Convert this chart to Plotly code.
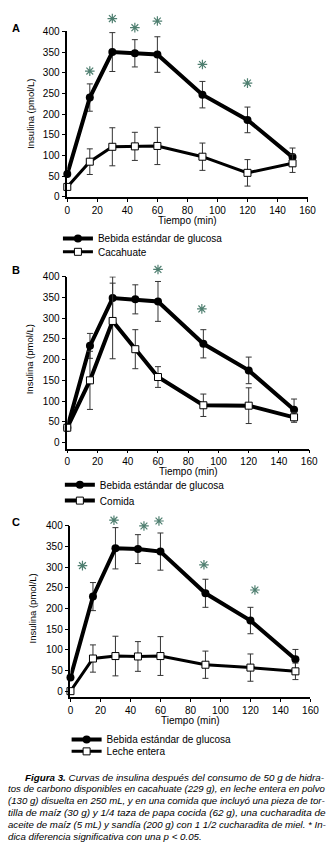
import plotly.graph_objects as go

W, H = 331, 862

times = [0, 15, 30, 45, 60, 90, 120, 150]
x_ticks = [0, 20, 40, 60, 80, 100, 120, 140, 160]
y_ticks = [0, 50, 100, 150, 200, 250, 300, 350, 400]

# Panel A
glucosa_A = [55, 240, 350, 347, 344, 247, 186, 96]
glucosa_A_err = [0, 33, 47, 33, 43, 32, 31, 22]
cacahuate = [24, 85, 121, 122, 123, 97, 58, 81]
cacahuate_err = [0, 31, 46, 34, 45, 33, 32, 22]
sig_A_x = [15, 30, 45, 60, 90, 120]
sig_A_y = [304, 431, 409, 425, 320, 275]

# Panel B
glucosa_B = [36, 233, 348, 345, 340, 238, 174, 79]
glucosa_B_err = [0, 30, 51, 35, 48, 34, 32, 26]
comida = [36, 150, 293, 225, 158, 90, 89, 61]
comida_err = [0, 70, 91, 47, 25, 27, 43, 12]
sig_B_x = [60, 89]
sig_B_y = [417, 322]

# Panel C
glucosa_C = [33, 229, 346, 344, 338, 237, 171, 77]
glucosa_C_err = [0, 34, 50, 35, 45, 34, 32, 24]
leche = [0, 79, 85, 84, 85, 64, 57, 48]
leche_err = [0, 33, 48, 36, 47, 33, 33, 20]
sig_C_x = [8, 29, 49, 59, 89, 123]
sig_C_y = [304, 414, 400, 412, 306, 245]

panels = [
    dict(label="A", open_name="Cacahuate",
         g=glucosa_A, ge=glucosa_A_err, o=cacahuate, oe=cacahuate_err,
         sx=sig_A_x, sy=sig_A_y,
         px=(66.7, 316), zero=193.3, top=25.7, axis=193.3, owidth=3,
         leg_rows=(235.5, 249), leg_text_x=97, title=(13, 22)),
    dict(label="B", open_name="Comida",
         g=glucosa_B, ge=glucosa_B_err, o=comida, oe=comida_err,
         sx=sig_B_x, sy=sig_B_y,
         px=(66.7, 317.7), zero=442.3, top=274, axis=448.3, owidth=4,
         leg_rows=(485, 501), leg_text_x=99, title=(13, 267)),
    dict(label="C", open_name="Leche entera",
         g=glucosa_C, ge=glucosa_C_err, o=leche, oe=leche_err,
         sx=sig_C_x, sy=sig_C_y,
         px=(70, 319), zero=694, top=526.7, axis=700, owidth=3,
         leg_rows=(743, 755), leg_text_x=106, title=(13, 523)),
]

FONT = "Liberation Sans, Arial, sans-serif"
SIG_COLOR = "#4f7f70"
LEG_TEXT_OFFSET = 40
EXTRA = 60  # headroom (data units) for the significance markers

fig = go.Figure()

for i, p in enumerate(panels):
    n = "" if i == 0 else str(i + 1)
    xa, ya = "x" + n, "y" + n
    ys = "y" + str(i + 4)  # invisible axis carrying the asterisks
    lg1 = "legend" + ("" if i == 0 else str(2 * i + 1))
    lg2 = "legend" + str(2 * i + 2)
    fig.add_trace(go.Scatter(
        x=times, y=p["g"], xaxis=xa, yaxis=ya, legend=lg1,
        name="Bebida estándar de glucosa", mode="lines+markers",
        line=dict(color="black", width=4),
        marker=dict(symbol="circle", size=8, color="black"),
        error_y=dict(type="data", array=p["ge"], color="#333", thickness=1, width=3),
        cliponaxis=False,
    ))
    fig.add_trace(go.Scatter(
        x=times, y=p["o"], xaxis=xa, yaxis=ya, legend=lg2,
        name=p["open_name"], mode="lines+markers",
        line=dict(color="black", width=p["owidth"]),
        marker=dict(symbol="square", size=7, color="white",
                    line=dict(color="black", width=1)),
        error_y=dict(type="data", array=p["oe"], color="#333", thickness=1, width=3),
        cliponaxis=False,
    ))
    fig.add_trace(go.Scatter(
        x=p["sx"], y=p["sy"], xaxis=xa, yaxis=ys, mode="markers",
        marker=dict(symbol="asterisk-open", size=8, color=SIG_COLOR,
                    line=dict(color=SIG_COLOR, width=1.2)),
        showlegend=False, cliponaxis=False, hoverinfo="skip",
    ))
    x0, x1 = p["px"]
    scale = (p["zero"] - p["top"]) / 400.0
    ymin = -(p["axis"] - p["zero"]) / scale
    sig_top = p["top"] - EXTRA * scale
    lx = (p["leg_text_x"] - LEG_TEXT_OFFSET) / W
    axis_common = dict(showgrid=False, zeroline=False, showline=True, linecolor="black",
                       linewidth=1.5, ticks="outside", tickcolor="black",
                       tickfont=dict(family=FONT, size=10, color="black"))
    fig.update_layout(**{
        ("xaxis" + n): dict(domain=[x0 / W, x1 / W], range=[0, 160], anchor=ya,
                            tickvals=x_ticks, ticklen=3, **axis_common),
        ("yaxis" + n): dict(domain=[1 - p["axis"] / H, 1 - p["top"] / H], range=[ymin, 400],
                            anchor=xa, tickvals=y_ticks, ticklen=4, **axis_common),
        ("yaxis" + str(i + 4)): dict(domain=[1 - p["axis"] / H, 1 - sig_top / H],
                                     range=[ymin, 400 + EXTRA], anchor=xa, visible=False),
        lg1: dict(x=lx, y=1 - p["leg_rows"][0] / H, xanchor="left", yanchor="middle",
                  bgcolor="rgba(0,0,0,0)", font=dict(family=FONT, size=10, color="black")),
        lg2: dict(x=lx, y=1 - p["leg_rows"][1] / H, xanchor="left", yanchor="middle",
                  bgcolor="rgba(0,0,0,0)", font=dict(family=FONT, size=10, color="black")),
    })
    fig.add_annotation(x=(x0 - 39) / W, y=1 - ((p["zero"] + p["top"]) / 2) / H,
                       xref="paper", yref="paper", xanchor="center", yanchor="middle",
                       text="Insulina (pmol/L)", textangle=-90, showarrow=False,
                       font=dict(family=FONT, size=9.5, color="black"))
    fig.add_annotation(x=(x0 + x1) / 2 / W, y=1 - (p["axis"] + 23.5) / H,
                       xref="paper", yref="paper", xanchor="center", yanchor="middle",
                       text="Tiempo (min)", showarrow=False,
                       font=dict(family=FONT, size=10, color="black"))
    fig.add_annotation(x=p["title"][0] / W, y=1 - p["title"][1] / H,
                       xref="paper", yref="paper", xanchor="center", yanchor="middle",
                       text="<b>" + p["label"] + "</b>", showarrow=False,
                       font=dict(family=FONT, size=11, color="black"))

# ---- caption (each line sized to fill the column, imitating justified text) ----
caption_bold = "Figura 3."
caption_lines = [
    " Curvas de insulina después del consumo de 50 g de hidra-",
    "tos de carbono disponibles en cacahuate (229 g), en leche entera en polvo",
    "(130 g) disuelta en 250 mL, y en una comida que incluyó una pieza de tor-",
    "tilla de maíz (30 g) y 1/4 taza de papa cocida (62 g), una cucharadita de",
    "aceite de maíz (5 mL) y sandía (200 g) con 1 1/2 cucharadita de miel. * In-",
    "dica diferencia significativa con una p < 0.05.",
]
caption_y = [781, 793, 805, 817, 829, 841]

ARIAL = {" ": 278, "f": 278, "i": 222, "í": 222, "j": 222, "l": 222, "t": 278, "r": 333,
         "c": 500, "k": 500, "s": 500, "v": 500, "x": 500, "y": 500, "z": 500,
         "m": 833, "w": 722, "(": 333, ")": 333, ",": 278, ".": 278, "-": 333,
         "/": 278, "*": 389, "<": 584, "I": 278, "L": 556, "C": 722, "F": 611}
BOLD = {" ": 278, "F": 611, "i": 278, "g": 611, "u": 611, "r": 389, "a": 556,
        "3": 556, ".": 278}


def text_w(s, table):
    return sum(table.get(ch, 556) for ch in s) / 1000.0


sizes = []
for j, line in enumerate(caption_lines):
    if j == 0:
        w = text_w(line, ARIAL) + text_w(caption_bold, BOLD)
        sizes.append(304 / w)
    elif j < len(caption_lines) - 1:
        sizes.append(322 / text_w(line, ARIAL))
sizes.append(sum(sizes) / len(sizes))

for j, (line, cy) in enumerate(zip(caption_lines, caption_y)):
    txt = line.replace("<", "&lt;")
    if j == 0:
        txt = "<b>" + caption_bold + "</b>" + txt
    fig.add_annotation(x=(21 if j == 0 else 3) / W, y=1 - cy / H, xref="paper", yref="paper",
                       xanchor="left", yanchor="middle", showarrow=False,
                       text="<i>" + txt + "</i>",
                       font=dict(family=FONT, size=round(sizes[j] * 0.985, 2), color="black"))

fig.update_layout(width=W, height=H, margin=dict(l=0, r=0, t=0, b=0),
                  paper_bgcolor="white", plot_bgcolor="rgba(0,0,0,0)", showlegend=True)

fig.write_html("out.html", config={"displayModeBar": False},
               post_script="document.body.style.margin='0px';document.body.style.padding='0px';")
